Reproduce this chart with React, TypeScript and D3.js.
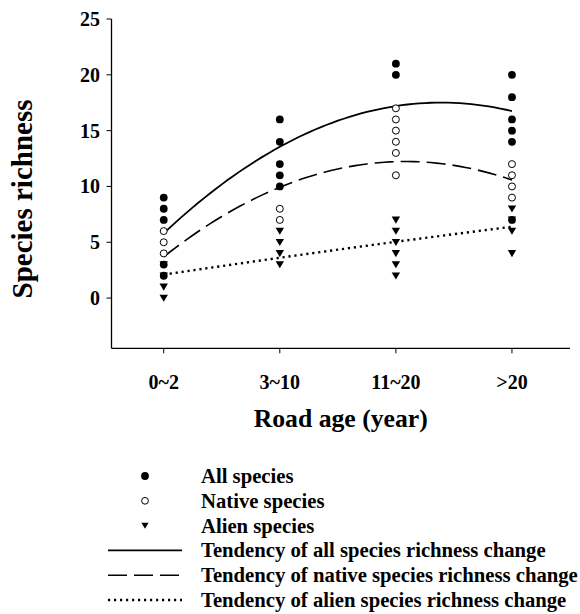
import React from 'react'
import * as d3 from 'd3'

// road age classes
const ageClasses = ['0~2', '3~10', '11~20', '>20']

// species richness per plot, one list per age class
const allSpecies = [
  [9, 8, 7, 3, 2],
  [16, 14, 12, 11, 10],
  [21, 20],
  [20, 18, 16, 15, 14, 7],
]
const nativeSpecies = [
  [6, 5, 4],
  [8, 7],
  [17, 16, 15, 14, 13, 11],
  [12, 11, 10, 9],
]
const alienSpecies = [
  [3, 2, 1, 0],
  [6, 5, 4, 3],
  [7, 6, 5, 4, 3, 2],
  [8, 7, 6, 4],
]

// quadratic tendency coefficients (a + b*x + c*x^2, x = class index)
const allTrend = [5.8, 9.8, -2.05]
const nativeTrend = [3.7, 8.2, -1.97]
const alienTrend = [2.1, 1.55, -0.04]

const yTicks = [0, 5, 10, 15, 20, 25]

const legendItems = [
  'All species',
  'Native species',
  'Alien species',
  'Tendency of all species richness change',
  'Tendency of native species richness change',
  'Tendency of alien species richness change',
]

const width = 580
const height = 614
const font = '"Liberation Serif", "Times New Roman", serif'

const App = () => {
  const x = d3.scaleLinear().domain([-0.45, 3.5]).range([111.5, 570])
  const y = d3.scaleLinear().domain([-4.5, 25]).range([348.3, 19])

  const trendPath = (coef: number[]) => {
    const line = d3
      .line<number>()
      .x((t) => x(t))
      .y((t) => y(coef[0] + coef[1] * t + coef[2] * t * t))
    return line(d3.range(0, 3.001, 0.05)) || ''
  }

  const triangle = (cx: number, cy: number, s = 4.2) =>
    `M${cx - s},${cy - s * 0.8}L${cx + s},${cy - s * 0.8}L${cx},${cy + s * 0.9}Z`

  const lineStyles = [
    { dash: undefined, w: 1.8 },
    { dash: '19 7', w: 1.6 },
    { dash: '2.2 3.8', w: 2.4 },
  ]

  const legendY = (i: number) => 476 + i * 24.8

  return (
    <svg
      width={width}
      height={height}
      style={{ position: 'absolute', left: 0, top: 0, background: 'white' }}
      fontFamily={font}
      fontWeight="bold"
    >
      {/* axes */}
      <line x1={x.range()[0]} x2={x.range()[0]} y1={y(25)} y2={y.range()[0]} stroke="black" strokeWidth={1.3} />
      <line x1={x.range()[0]} x2={x.range()[1]} y1={y.range()[0]} y2={y.range()[0]} stroke="black" strokeWidth={1.3} />
      {yTicks.map((t) => (
        <g key={t}>
          <line x1={x.range()[0] - 5} x2={x.range()[0]} y1={y(t)} y2={y(t)} stroke="black" strokeWidth={1} />
          <text x={100} y={y(t) + 7} textAnchor="end" fontSize={20}>
            {t}
          </text>
        </g>
      ))}
      {ageClasses.map((c, i) => (
        <g key={c}>
          <line x1={x(i)} x2={x(i)} y1={y.range()[0]} y2={y.range()[0] + 5} stroke="black" strokeWidth={1} />
          <text x={x(i)} y={389} textAnchor="middle" fontSize={20}>
            {c}
          </text>
        </g>
      ))}
      <text x={(x.range()[0] + x.range()[1]) / 2} y={427} textAnchor="middle" fontSize={25.7}>
        Road age (year)
      </text>
      <text transform="translate(32,199) rotate(-90)" textAnchor="middle" fontSize={29}>
        Species richness
      </text>

      {/* tendency lines */}
      {[allTrend, nativeTrend, alienTrend].map((coef, i) => (
        <path
          key={i}
          d={trendPath(coef)}
          fill="none"
          stroke="black"
          strokeWidth={lineStyles[i].w}
          strokeDasharray={lineStyles[i].dash}
        />
      ))}

      {/* points */}
      {allSpecies.map((vals, i) =>
        vals.map((v, j) => <circle key={`a${i}-${j}`} cx={x(i)} cy={y(v)} r={3.9} fill="black" />)
      )}
      {nativeSpecies.map((vals, i) =>
        vals.map((v, j) => (
          <circle key={`n${i}-${j}`} cx={x(i)} cy={y(v)} r={3.5} fill="white" stroke="black" strokeWidth={1} />
        ))
      )}
      {alienSpecies.map((vals, i) =>
        vals.map((v, j) => <path key={`l${i}-${j}`} d={triangle(x(i), y(v))} fill="black" />)
      )}

      {/* legend */}
      <circle cx={145} cy={legendY(0)} r={3.9} fill="black" />
      <circle cx={145} cy={legendY(1)} r={3.4} fill="white" stroke="black" strokeWidth={1} />
      <path d={triangle(145, legendY(2), 3.6)} fill="black" />
      {lineStyles.map((s, i) => (
        <line
          key={i}
          x1={108}
          x2={182}
          y1={legendY(3 + i)}
          y2={legendY(3 + i)}
          stroke="black"
          strokeWidth={s.w}
          strokeDasharray={s.dash}
        />
      ))}
      {legendItems.map((t, i) => (
        <text key={t} x={201} y={legendY(i) + 7} fontSize={20.7}>
          {t}
        </text>
      ))}
    </svg>
  )
}

export default App
